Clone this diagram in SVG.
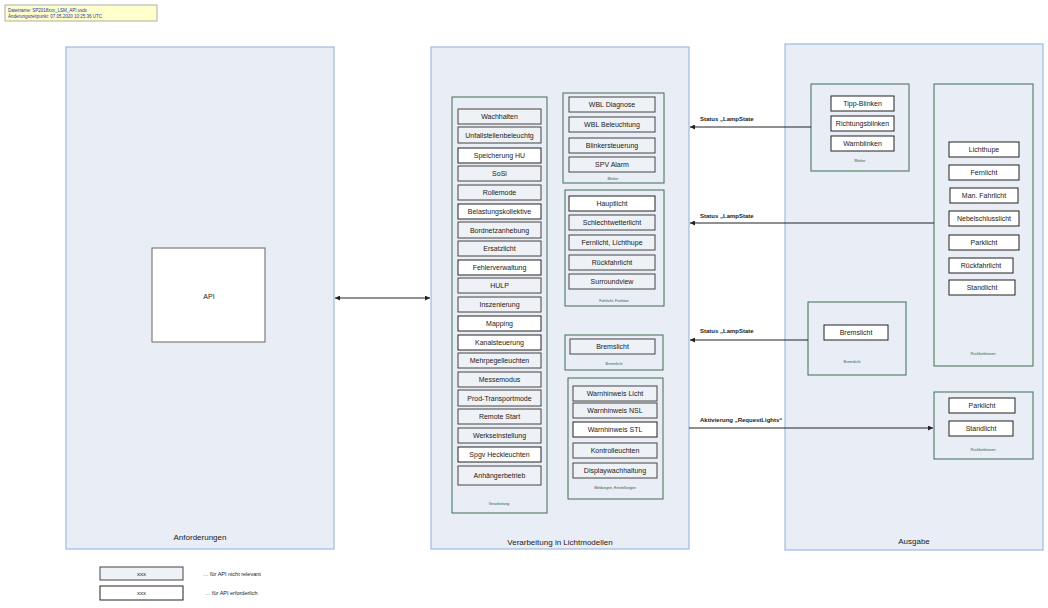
<svg xmlns="http://www.w3.org/2000/svg" width="1048" height="608" viewBox="0 0 1048 608">
<style>
text{font-family:"Liberation Sans",Arial,sans-serif;fill:#1a1a1a;}
.cont{fill:#e9edf5;stroke:#9fbadf;stroke-width:1.2;}
.grp{fill:#e9edf5;stroke:#3f6f52;stroke-width:1;}
.g{fill:#eef1f5;stroke:#444;stroke-width:1;}
.w{fill:#ffffff;stroke:#222;stroke-width:1;}
.t{font-size:7px;text-anchor:middle;dominant-baseline:central;}
.gl{font-size:3.6px;text-anchor:middle;fill:#2d5a3e;}
.cl{font-size:8px;text-anchor:middle;}
.al{font-size:6px;font-weight:bold;}
.ln{stroke:#222;stroke-width:1;fill:none;}
</style>
<defs>
<marker id="ah" viewBox="0 0 10 10" refX="10" refY="5" markerWidth="5" markerHeight="5" orient="auto-start-reverse"><path d="M0,0 L10,5 L0,10 z" fill="#222"/></marker>
</defs>
<g id="info">
<rect x="5" y="5" width="152" height="16" fill="#ffffcc" stroke="#999" stroke-width="0.8"/>
<text x="8" y="11.5" style="font-size:4.5px;fill:#2233aa">Dateiname: SP2018xxx_LSM_API.vsdx</text>
<text x="8" y="17.5" style="font-size:4.5px;fill:#2233aa">Änderungszeitpunkt: 07.05.2020 10:25:36 UTC</text>
</g>
<g id="anforderungen">
<rect class="cont" x="66" y="47" width="268" height="502"/>
<text class="cl" x="200" y="540">Anforderungen</text>
</g>
<g id="api">
<rect x="152" y="248" width="113" height="94" fill="#fff" stroke="#666" stroke-width="1"/>
<text class="t" x="209" y="296">API</text>
</g>
<g id="verarbeitung-lichtmodelle">
<rect class="cont" x="431" y="47" width="258" height="502"/>
<text class="cl" x="560" y="545">Verarbeitung in Lichtmodellen</text>
</g>
<g id="ausgabe">
<rect class="cont" x="785" y="44" width="258" height="506"/>
<text class="cl" x="914" y="544">Ausgabe</text>
</g>
<g id="verarbeitung">
<rect class="grp" x="452" y="97" width="95" height="416"/>
<text class="gl" x="499" y="505">Verarbeitung</text>
<rect class="g" x="458" y="109" width="83" height="15"/><text class="t" x="499.5" y="116.5">Wachhalten</text>
<rect class="g" x="458" y="127" width="83" height="16"/><text class="t" x="499.5" y="135">Unfallstellenbeleuchtg</text>
<rect class="w" x="458" y="148" width="83" height="15"/><text class="t" x="499.5" y="155.5">Speicherung HU</text>
<rect class="g" x="458" y="166" width="83" height="15"/><text class="t" x="499.5" y="173.5">SoSi</text>
<rect class="g" x="458" y="185" width="83" height="15"/><text class="t" x="499.5" y="192.5">Rollemode</text>
<rect class="w" x="458" y="204" width="83" height="15"/><text class="t" x="499.5" y="211.5">Belastungskollektive</text>
<rect class="g" x="458" y="222" width="83" height="16"/><text class="t" x="499.5" y="230">Bordnetzanhebung</text>
<rect class="g" x="458" y="241" width="83" height="15"/><text class="t" x="499.5" y="248.5">Ersatzlicht</text>
<rect class="w" x="458" y="260" width="83" height="15"/><text class="t" x="499.5" y="267.5">Fehlerverwaltung</text>
<rect class="g" x="458" y="278" width="83" height="15"/><text class="t" x="499.5" y="285.5">HULP</text>
<rect class="g" x="458" y="297" width="83" height="15"/><text class="t" x="499.5" y="304.5">Inszenierung</text>
<rect class="w" x="458" y="316" width="83" height="15"/><text class="t" x="499.5" y="323.5">Mapping</text>
<rect class="w" x="458" y="335" width="83" height="15"/><text class="t" x="499.5" y="342.5">Kanalsteuerung</text>
<rect class="g" x="458" y="353" width="83" height="15"/><text class="t" x="499.5" y="360.5">Mehrpegelleuchten</text>
<rect class="g" x="458" y="372" width="83" height="15"/><text class="t" x="499.5" y="379.5">Messemodus</text>
<rect class="g" x="458" y="390" width="83" height="16"/><text class="t" x="499.5" y="398">Prod-Transportmode</text>
<rect class="g" x="458" y="409" width="83" height="15"/><text class="t" x="499.5" y="416.5">Remote Start</text>
<rect class="g" x="458" y="428" width="83" height="15"/><text class="t" x="499.5" y="435.5">Werkseinstellung</text>
<rect class="w" x="458" y="447" width="83" height="15"/><text class="t" x="499.5" y="454.5">Spgv Heckleuchten</text>
<rect class="g" x="458" y="466" width="83" height="19"/><text class="t" x="499.5" y="475.5">Anhängerbetrieb</text>
</g>
<g id="blinker-mitte">
<rect class="grp" x="563" y="93" width="101" height="90"/>
<text class="gl" x="613" y="180">Blinker</text>
<rect class="g" x="569" y="97" width="86" height="15"/><text class="t" x="612" y="104.5">WBL Diagnose</text>
<rect class="g" x="569" y="117" width="86" height="15"/><text class="t" x="612" y="124.5">WBL Beleuchtung</text>
<rect class="g" x="569" y="138" width="86" height="15"/><text class="t" x="612" y="145.5">Blinkersteuerung</text>
<rect class="g" x="569" y="157" width="86" height="15"/><text class="t" x="612" y="164.5">SPV Alarm</text>
</g>
<g id="fahrlicht-mitte">
<rect class="grp" x="565" y="190" width="99" height="116"/>
<text class="gl" x="614" y="302">Fahrlicht, Funktion</text>
<rect class="w" x="569" y="196" width="86" height="15"/><text class="t" x="612" y="203.5">Hauptlicht</text>
<rect class="g" x="569" y="215" width="86" height="15"/><text class="t" x="612" y="222.5">Schlechtwetterlicht</text>
<rect class="g" x="569" y="235" width="86" height="15"/><text class="t" x="612" y="242.5">Fernlicht, Lichthupe</text>
<rect class="g" x="569" y="255" width="86" height="15"/><text class="t" x="612" y="262.5">Rückfahrlicht</text>
<rect class="g" x="569" y="274" width="86" height="15"/><text class="t" x="612" y="281.5">Surroundview</text>
</g>
<g id="bremslicht-mitte">
<rect class="grp" x="565" y="335" width="98" height="35"/>
<text class="gl" x="614" y="365">Bremslicht</text>
<rect class="g" x="570" y="339" width="85" height="15"/><text class="t" x="612.5" y="346.5">Bremslicht</text>
</g>
<g id="meldungen-mitte">
<rect class="grp" x="568" y="378" width="95" height="121"/>
<text class="gl" x="615" y="489">Meldungen, Einstellungen</text>
<rect class="g" x="573" y="386" width="84" height="15"/><text class="t" x="615" y="393.5">Warnhinweis Licht</text>
<rect class="g" x="573" y="403" width="84" height="15"/><text class="t" x="615" y="410.5">Warnhinweis NSL</text>
<rect class="w" x="573" y="422" width="84" height="15"/><text class="t" x="615" y="429.5">Warnhinweis STL</text>
<rect class="g" x="573" y="443" width="84" height="15"/><text class="t" x="615" y="450.5">Kontrolleuchten</text>
<rect class="g" x="573" y="463" width="84" height="15"/><text class="t" x="615" y="470.5">Displaywachhaltung</text>
</g>
<g id="blinker-ausgabe">
<rect class="grp" x="811" y="84" width="98" height="87"/>
<text class="gl" x="860" y="162">Blinker</text>
<rect class="w" x="831" y="96" width="63" height="15"/><text class="t" x="862.5" y="103.5">Tipp-Blinken</text>
<rect class="w" x="831" y="116" width="63" height="15"/><text class="t" x="862.5" y="123.5">Richtungsblinken</text>
<rect class="w" x="831" y="136" width="63" height="15"/><text class="t" x="862.5" y="143.5">Warnblinken</text>
</g>
<g id="rueckfunktionen-1">
<rect class="grp" x="934" y="84" width="99" height="282"/>
<text class="gl" x="983" y="355">Rückfunktionen</text>
<rect class="w" x="949" y="142" width="70" height="15"/><text class="t" x="984" y="149.5">Lichthupe</text>
<rect class="w" x="949" y="165" width="70" height="15"/><text class="t" x="984" y="172.5">Fernlicht</text>
<rect class="w" x="950" y="188" width="68" height="15"/><text class="t" x="984" y="195.5">Man. Fahrlicht</text>
<rect class="w" x="949" y="211" width="70" height="15"/><text class="t" x="984" y="218.5">Nebelschlusslicht</text>
<rect class="w" x="949" y="235" width="70" height="15"/><text class="t" x="984" y="242.5">Parklicht</text>
<rect class="w" x="949" y="258" width="64" height="15"/><text class="t" x="981" y="265.5">Rückfahrlicht</text>
<rect class="w" x="949" y="280" width="66" height="15"/><text class="t" x="982" y="287.5">Standlicht</text>
</g>
<g id="bremslicht-ausgabe">
<rect class="grp" x="808" y="302" width="98" height="73"/>
<text class="gl" x="852" y="363">Bremslicht</text>
<rect class="w" x="824" y="325" width="64" height="15"/><text class="t" x="856" y="332.5">Bremslicht</text>
</g>
<g id="rueckfunktionen-2">
<rect class="grp" x="934" y="392" width="99" height="67"/>
<text class="gl" x="983" y="451">Rückfunktionen</text>
<rect class="w" x="949" y="398" width="66" height="15"/><text class="t" x="982" y="405.5">Parklicht</text>
<rect class="w" x="949" y="421" width="64" height="15"/><text class="t" x="981" y="428.5">Standlicht</text>
</g>
<g id="connectors">
<line class="ln" x1="335" y1="298" x2="430" y2="298" marker-start="url(#ah)" marker-end="url(#ah)"/>
<line class="ln" x1="811" y1="127" x2="690" y2="127" marker-end="url(#ah)"/>
<text class="al" x="700" y="121">Status „LampState</text>
<line class="ln" x1="934" y1="223" x2="690" y2="223" marker-end="url(#ah)"/>
<text class="al" x="700" y="218">Status „LampState</text>
<line class="ln" x1="808" y1="340" x2="690" y2="340" marker-end="url(#ah)"/>
<text class="al" x="700" y="333">Status „LampState</text>
<line class="ln" x1="689" y1="428" x2="933" y2="428" stroke="#555" marker-end="url(#ah)"/>
<text class="al" x="700" y="422">Aktivierung „RequestLights“</text>
</g>
<g id="legende">
<rect class="g" x="100" y="567" width="83" height="13"/><text class="t" x="141.5" y="573.5" style="font-size:6px">xxx</text>
<text x="203" y="576" style="font-size:5.5px">… für API nicht relevant</text>
<rect class="w" x="100" y="586" width="83" height="14" stroke="#666"/><text class="t" x="141.5" y="593" style="font-size:6px">xxx</text>
<text x="205" y="595" style="font-size:5.5px">… für API erforderlich</text>
</g>
</svg>
